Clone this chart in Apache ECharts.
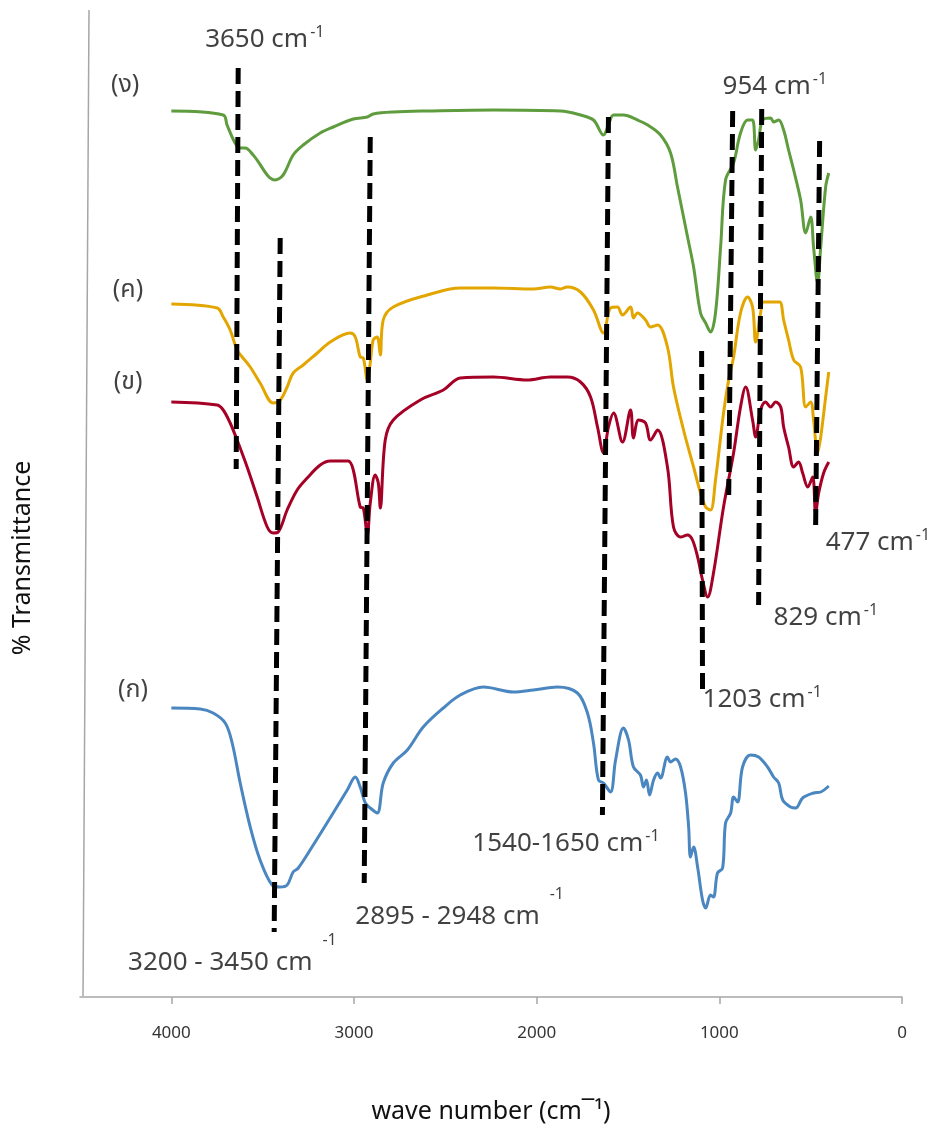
<!DOCTYPE html>
<html>
<head>
<meta charset="utf-8">
<script src="https://cdn.jsdelivr.net/npm/echarts@6/dist/echarts.min.js"></script>
<style>
  html, body { margin: 0; padding: 0; background: #fff; }
  #chart { width: 939px; height: 1131px; }
</style>
</head>
<body>
<div id="chart"></div>
<script>
// wave number (cm-1) vs transmittance, curves are stacked with offsets as in the figure
const xTicks = [0, 1000, 2000, 3000, 4000]

// (ง)
const curveD = [
  [4000, 88.6], [3716, 88.2], [3695, 87.2], [3651, 85.4], [3623, 84.9], [3596, 84.9], [3552, 84.2],
  [3432, 81.7], [3388, 82.2], [3333, 84.2], [3278, 85.2], [3185, 86.4], [3114, 87.0], [3004, 87.8],
  [2927, 88.0], [2895, 88.3], [2785, 88.5], [2599, 88.6], [2237, 88.7], [1870, 88.6], [1760, 88.2],
  [1689, 87.7], [1634, 86.2], [1607, 87.2], [1579, 88.2], [1525, 88.2], [1448, 87.7], [1392, 87.2],
  [1322, 86.2], [1267, 84.4], [1229, 81.0], [1174, 76.0], [1141, 73.0], [1103, 68.4], [1075, 67.4],
  [1048, 66.5], [1021, 68.4], [993, 75.0], [966, 81.7], [922, 83.4], [884, 86.4], [845, 87.7],
  [818, 87.7], [801, 84.7], [785, 85.7], [763, 87.7], [719, 87.9], [703, 87.5], [675, 87.7],
  [648, 86.7], [621, 84.7], [593, 82.7], [555, 79.7], [527, 76.4], [500, 78.0], [484, 75.0],
  [462, 71.4], [445, 75.0], [418, 81.0], [401, 82.4]
]

// (ค)
const curveC = [
  [4000, 69.3], [3749, 68.9], [3716, 68.0], [3678, 66.7], [3640, 64.7], [3612, 64.0], [3568, 63.0],
  [3514, 61.4], [3442, 59.4], [3404, 59.7], [3366, 61.0], [3333, 62.4], [3278, 63.2], [3201, 64.4],
  [3130, 65.5], [3021, 66.4], [2993, 66.0], [2966, 64.0], [2949, 63.9], [2927, 61.7], [2911, 63.4],
  [2895, 65.7], [2873, 66.0], [2856, 64.2], [2840, 67.7], [2785, 69.0], [2599, 70.2], [2418, 70.9],
  [2237, 70.9], [2018, 70.8], [1925, 71.0], [1870, 70.8], [1832, 71.0], [1760, 70.5], [1689, 68.7],
  [1634, 66.4], [1596, 68.9], [1558, 69.0], [1530, 68.2], [1486, 69.0], [1470, 67.9], [1448, 68.4],
  [1404, 67.7], [1377, 67.0], [1338, 67.2], [1284, 65.0], [1251, 61.0], [1196, 56.7], [1141, 53.0],
  [1103, 50.4], [1075, 49.0], [1048, 48.7], [1021, 51.7], [977, 58.4], [949, 61.7], [922, 64.0],
  [884, 68.4], [845, 70.0], [818, 69.0], [801, 65.5], [774, 68.4], [758, 69.5], [708, 69.5],
  [670, 69.5], [648, 67.7], [621, 65.7], [593, 63.7], [555, 63.0], [527, 59.0], [500, 59.5],
  [484, 57.7], [462, 54.4], [445, 56.0], [418, 60.0], [401, 62.5]
]

// (ข)
const curveB = [
  [4000, 59.5], [3749, 59.2], [3716, 58.7], [3678, 57.4], [3640, 55.7], [3585, 53.0], [3530, 50.0],
  [3475, 47.0], [3442, 46.4], [3415, 46.5], [3366, 48.7], [3311, 50.7], [3256, 51.9], [3185, 53.2],
  [3130, 53.6], [3032, 53.6], [3004, 52.7], [2966, 49.0], [2949, 48.9], [2927, 46.2], [2911, 49.4],
  [2884, 52.2], [2867, 51.4], [2856, 48.9], [2829, 55.7], [2785, 57.7], [2637, 59.7], [2511, 60.7],
  [2418, 61.9], [2237, 62.0], [2051, 61.7], [1925, 62.0], [1832, 62.0], [1760, 61.5], [1705, 60.0],
  [1667, 57.0], [1634, 54.4], [1607, 57.0], [1579, 58.4], [1530, 55.5], [1486, 58.7], [1470, 55.9],
  [1442, 57.7], [1404, 57.4], [1377, 55.7], [1338, 56.7], [1284, 53.0], [1251, 47.0], [1212, 46.0],
  [1174, 46.2], [1147, 45.7], [1119, 44.0], [1092, 41.7], [1064, 40.0], [1032, 42.4], [977, 49.0],
  [922, 54.4], [884, 59.0], [856, 61.0], [818, 57.7], [801, 56.0], [774, 58.7], [747, 59.5],
  [719, 59.0], [692, 59.5], [664, 59.0], [648, 57.0], [621, 55.0], [593, 53.0], [566, 53.5],
  [544, 52.4], [516, 51.0], [489, 52.0], [473, 48.4], [456, 50.4], [429, 52.4], [401, 53.5]
]

// (ก)
const curveA = [
  [4000, 28.9], [3842, 28.8], [3771, 28.4], [3705, 27.4], [3667, 25.4], [3623, 21.4], [3568, 17.0],
  [3514, 13.7], [3448, 11.2], [3404, 11.0], [3366, 11.2], [3333, 12.5], [3305, 12.9], [3223, 15.2],
  [3114, 18.4], [3037, 20.7], [2993, 22.0], [2966, 21.0], [2938, 19.4], [2911, 18.9], [2873, 18.4],
  [2840, 21.4], [2785, 23.4], [2708, 24.7], [2621, 27.0], [2511, 28.9], [2418, 30.2], [2292, 31.0],
  [2127, 30.5], [2018, 30.7], [1886, 31.0], [1777, 30.4], [1722, 28.4], [1689, 25.4], [1662, 21.7],
  [1634, 21.4], [1596, 20.5], [1568, 23.7], [1525, 26.9], [1497, 25.7], [1470, 23.0], [1432, 22.2],
  [1415, 21.0], [1399, 21.7], [1382, 20.2], [1360, 21.7], [1338, 22.4], [1322, 21.9], [1284, 24.0],
  [1267, 23.5], [1240, 23.8], [1212, 23.0], [1185, 20.4], [1168, 17.0], [1158, 14.0], [1141, 15.0],
  [1119, 13.0], [1092, 9.7], [1075, 8.9], [1048, 10.2], [1032, 10.0], [1010, 12.4], [982, 12.9],
  [966, 17.4], [938, 18.4], [922, 20.0], [900, 19.5], [873, 23.0], [829, 24.2], [785, 24.0],
  [736, 23.0], [703, 22.0], [675, 21.4], [653, 19.7], [610, 19.0], [582, 18.9], [544, 19.9],
  [484, 20.4], [445, 20.5], [401, 21.1]
]

// ปลายเส้นประ (top, bottom)
const guideLines = [
  [[3634, 92.9], [3645, 52.8]],
  [[3404, 75.9], [3437, 6.5]],
  [[2911, 86.0], [2944, 11.4]],
  [[1607, 88.0], [1640, 18.2]],
  [[1097, 64.6], [1092, 30.8]],
  [[927, 88.6], [949, 49.6]],
  [[768, 88.8], [785, 39.2]],
  [[451, 85.6], [473, 46.7]]
]

const sampleLabels = [
  { text: '(ง)', value: [4253, 91.2] },
  { text: '(ค)', value: [4237, 70.7] },
  { text: '(ข)', value: [4237, 61.5] },
  { text: '(ก)', value: [4210, 30.7] }
]

// high = superscript sits far above the text
const peakLabels = [
  { text: '3650 cm', value: [3815, 95.7], high: false },
  { text: '954 cm', value: [982, 91.0], high: false },
  { text: '477 cm', value: [418, 45.4], high: false },
  { text: '829 cm', value: [703, 37.9], high: false },
  { text: '1203 cm', value: [1092, 29.7], high: false },
  { text: '1540-1650 cm', value: [2352, 15.3], high: false },
  { text: '2895 - 2948 cm', value: [2993, 8.0], high: true },
  { text: '3200 - 3450 cm', value: [4237, 3.4], high: true }
]

const font = '"Noto Sans", "Noto Sans Thai", "DejaVu Sans", sans-serif'
const chart = echarts.init(document.getElementById('chart'))

function curve(name, data, color) {
  return {
    name: name,
    type: 'line',
    data: data,
    symbol: 'none',
    smooth: 0.35,
    lineStyle: { color: color, width: 3 },
    z: 2,
  }
}

const series = [
  curve('ง', curveD, '#5e9c3d'),
  curve('ค', curveC, '#e3a600'),
  curve('ข', curveB, '#a50026'),
  curve('ก', curveA, '#4a86c0'),
]

guideLines.forEach((pts, i) => {
  series.push({
    name: 'guide' + i,
    type: 'line',
    data: pts,
    symbol: 'none',
    lineStyle: { color: '#000', width: 5, type: [16, 7], cap: 'butt' },
    z: 3,
  })
})

series.push({
  type: 'scatter',
  symbolSize: 0,
  z: 4,
  data: sampleLabels.map((d) => ({ value: d.value, name: d.text })),
  label: {
    show: true,
    position: 'inside',
    formatter: (p) => p.name,
    fontFamily: font,
    fontSize: 25,
    color: '#111',
  },
})

series.push({
  type: 'scatter',
  symbolSize: 0,
  z: 4,
  data: peakLabels.map((d) => ({
    value: d.value,
    name: d.text,
    label: {
      formatter: d.high ? '{m|' + d.text + '}{h|-1}' : '{m|' + d.text + '}{s|-1}',
    },
  })),
  label: {
    show: true,
    position: 'inside',
    align: 'left',
    verticalAlign: 'middle',
    fontFamily: font,
    color: '#111',
    rich: {
      m: { fontSize: 26, fontFamily: font, color: '#111' },
      s: { fontSize: 16, fontFamily: font, color: '#111', padding: [0, 0, 16, 2] },
      h: { fontSize: 16, fontFamily: font, color: '#111', padding: [0, 0, 46, 10] },
    },
  },
})

const option = {
  backgroundColor: '#fff',
  animation: false,
  grid: { left: 80, right: 37, top: 10, bottom: 134 },
  xAxis: {
    type: 'value',
    min: 0,
    max: 4500,
    inverse: true,
    name: 'wave number (cm¯¹)',
    nameLocation: 'middle',
    nameGap: 102,
    nameTextStyle: { fontFamily: font, fontSize: 25, color: '#111' },
    axisLine: { show: true, lineStyle: { color: '#a6a6a6', width: 1.5 } },
    axisTick: { show: true, length: 7, customValues: xTicks, lineStyle: { color: '#a6a6a6', width: 1.5 } },
    axisLabel: {
      customValues: xTicks,
      margin: 28,
      fontFamily: font,
      fontSize: 17,
      color: '#333',
      formatter: (v) => String(v),
    },
    splitLine: { show: false },
  },
  yAxis: {
    type: 'value',
    min: 0,
    max: 98.7,
    show: false,
  },
  graphic: [
    {
      type: 'line',
      shape: { x1: 89, y1: 10, x2: 83, y2: 996 },
      style: { stroke: '#a6a6a6', lineWidth: 1.5 },
    },
    {
      type: 'text',
      x: 23,
      y: 558,
      rotation: Math.PI / 2,
      style: {
        text: '% Transmittance',
        fontFamily: font,
        fontSize: 25,
        fill: '#111',
        align: 'center',
        verticalAlign: 'middle',
      },
    },
  ],
  series: series,
}

chart.setOption(option)
</script>
</body>
</html>
